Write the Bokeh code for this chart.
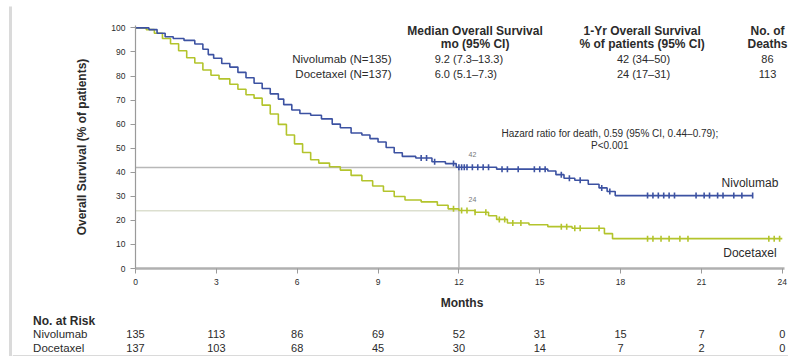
import math
from bokeh.plotting import figure
from bokeh.layouts import row, column
from bokeh.models import Range1d, Label, ColumnDataSource, FixedTicker
from bokeh.core.properties import value
from bokeh.embed import file_html
from bokeh.resources import INLINE

# ---------------- data ----------------
nivo_t = [0, 0.5, 0.8, 1.1, 1.4, 1.8, 2.2, 2.5, 2.7, 2.9, 3.2, 3.5, 3.8, 4.1, 4.4, 4.7, 5.0,
          5.3, 5.5, 5.8, 6.1, 6.5, 6.9, 7.3, 7.6, 8.0, 8.4, 8.7, 9.0, 9.3, 9.6, 9.9, 10.4,
          11.0, 11.5, 11.9, 13.4, 15.3, 15.6, 15.9, 16.3, 16.8, 17.2, 17.5, 17.8, 22.9]
nivo_s = [100, 99.3, 97.8, 96.3, 95.6, 94.8, 93.3, 91.1, 88.9, 87.4, 85.2, 83.7, 81.5, 79.3,
          77.0, 74.8, 72.6, 70.4, 68.1, 65.9, 64.4, 63.7, 62.2, 60.0, 58.5, 56.3, 55.5, 54.0,
          52.6, 50.3, 48.1, 46.6, 45.9, 44.4, 43.6, 42.1, 41.3, 40.5, 39.0, 37.5, 36.7, 35.0,
          33.5, 32.0, 30.3, 30.3]
nivo_cens_t = [10.6, 10.8, 11.1, 11.8, 12.0, 12.1, 12.2, 12.3, 12.5, 12.7, 12.9, 13.1, 13.6,
               13.8, 14.2, 14.8, 15.0, 15.2, 15.8, 16.1, 16.5, 17.3, 17.6, 19.0, 19.2, 19.4,
               19.6, 19.8, 20.0, 20.8, 21.1, 21.3, 21.6, 21.8, 22.2, 22.5, 22.9]
nivo_cens_s = [45.9, 45.9, 44.4, 43.6, 42.1, 42.1, 42.1, 42.1, 42.1, 42.1, 42.1, 42.1, 41.3,
               41.3, 41.3, 41.3, 41.3, 41.3, 39.0, 37.5, 36.7, 33.5, 32.0, 30.3, 30.3, 30.3,
               30.3, 30.3, 30.3, 30.3, 30.3, 30.3, 30.3, 30.3, 30.3, 30.3, 30.3]

doc_t = [0, 0.4, 0.7, 1.0, 1.3, 1.6, 1.9, 2.2, 2.5, 2.8, 3.1, 3.5, 3.8, 4.1, 4.4, 4.7, 5.0,
         5.3, 5.6, 5.9, 6.2, 6.5, 6.8, 7.2, 7.6, 8.0, 8.4, 8.8, 9.2, 9.6, 10.0, 10.6, 11.2,
         11.6, 12.0, 12.6, 13.1, 13.4, 13.8, 14.6, 15.3, 16.2, 17.4, 17.7, 24.0]
doc_s = [100, 99.3, 97.8, 95.6, 93.4, 90.5, 87.6, 85.4, 82.5, 80.3, 78.8, 76.6, 74.5, 72.2,
         70.8, 67.9, 64.2, 59.9, 55.5, 51.8, 48.2, 45.2, 43.8, 42.3, 40.9, 38.7, 36.5, 34.3,
         32.1, 29.9, 28.5, 27.7, 26.3, 24.8, 24.1, 23.4, 21.9, 20.4, 18.9, 18.2, 17.4, 16.7,
         14.5, 12.4, 12.4]
doc_cens_t = [11.8, 12.1, 12.3, 12.6, 13.0, 13.5, 13.7, 14.0, 14.3, 15.8, 16.0, 16.3, 16.5,
              17.2, 19.0, 19.2, 19.5, 19.8, 20.2, 20.5, 23.5, 23.7, 23.9]
doc_cens_s = [24.8, 24.1, 24.1, 23.4, 23.4, 20.4, 20.4, 18.9, 18.9, 17.4, 17.4, 16.7, 16.7,
              16.7, 12.4, 12.4, 12.4, 12.4, 12.4, 12.4, 12.4, 12.4, 12.4]

groups = ["Nivolumab", "Docetaxel"]
group_n = ["135", "137"]
median_os = ["9.2 (7.3\u201313.3)", "6.0 (5.1\u20137.3)"]
one_year_txt = ["42 (34\u201350)", "24 (17\u201331)"]
one_year_val = [42, 24]
deaths = ["86", "113"]
landmark_month = 12
hazard_line1 = "Hazard ratio for death, 0.59 (95% CI, 0.44\u20130.79);"
hazard_line2 = "P<0.001"

risk_months = [0, 3, 6, 9, 12, 15, 18, 21, 24]
risk_nivo = [135, 113, 86, 69, 52, 31, 15, 7, 0]
risk_doc = [137, 103, 68, 45, 30, 14, 7, 2, 0]

y_ticks = [0, 10, 20, 30, 40, 50, 60, 70, 80, 90, 100]

BLUE = "#3c52a2"
GREEN = "#b3c42c"
TXT = "#2b2b2b"
FONT = "Liberation Sans"

STRIP_W = 12
MAIN_W = 776
LEFT_PAD = 123                      # px from strip to the y axis
PX_PER_MONTH = 26.95
X_END = (MAIN_W - LEFT_PAD) / PX_PER_MONTH
X_START_TABLE = -LEFT_PAD / PX_PER_MONTH

p = figure(width=MAIN_W, height=312, output_backend="svg", toolbar_location=None,
           x_range=Range1d(0, X_END), y_range=Range1d(0, 101),
           min_border_left=LEFT_PAD, min_border_right=0, min_border_top=25, min_border_bottom=44)
p.frame_align = False
p.outline_line_color = None
p.grid.visible = False

# axes
p.xaxis.ticker = FixedTicker(ticks=risk_months)
p.yaxis.ticker = FixedTicker(ticks=y_ticks)
p.xaxis.bounds = (0, 24.1)
for ax in (p.xaxis[0], p.yaxis[0]):
    ax.major_label_text_font = FONT
    ax.major_label_text_font_size = "8.5px"
    ax.major_label_text_color = TXT
    ax.axis_label_text_font = FONT
    ax.axis_label_text_font_size = "12px"
    ax.axis_label_text_font_style = "bold"
    ax.axis_label_text_color = TXT
    ax.minor_tick_line_color = None
    ax.major_tick_in = 0
    ax.major_tick_out = 5
    ax.major_tick_line_color = "#9a9a9a"
p.xaxis.axis_label = "Months"
p.yaxis.axis_label = "Overall Survival (% of patients)"
p.xaxis.axis_line_color = "#b0b0b0"
p.xaxis.axis_line_width = 2.5
p.yaxis.axis_line_color = "#9a9a9a"
p.yaxis.axis_line_width = 1.2
p.xaxis.major_label_standoff = 5
p.yaxis.major_label_standoff = 5
p.xaxis.axis_label_standoff = 8
p.yaxis.axis_label_standoff = 19

# landmark reference lines
p.segment(x0=[0], y0=[one_year_val[0]], x1=[landmark_month], y1=[one_year_val[0]],
          line_color="#b8b8b8", line_width=1.5)
p.segment(x0=[0], y0=[one_year_val[1]], x1=[landmark_month], y1=[one_year_val[1]],
          line_color="#dcdfcf", line_width=1.5)
p.segment(x0=[landmark_month], y0=[0], x1=[landmark_month], y1=[one_year_val[0]],
          line_color="#b8b8b8", line_width=1.5)

# KM curves
p.step(doc_t, doc_s, mode="after", line_color=GREEN, line_width=1.6)
p.step(nivo_t, nivo_s, mode="after", line_color=BLUE, line_width=1.6)
p.scatter(doc_cens_t, doc_cens_s, marker="dash", angle=math.pi / 2, size=6,
          line_color=GREEN, line_width=1.6)
p.scatter(nivo_cens_t, nivo_cens_s, marker="dash", angle=math.pi / 2, size=6,
          line_color=BLUE, line_width=1.6)


def lab(fig, x, y, text, size="11px", style="normal", align="center", color=TXT):
    fig.add_layout(Label(x=x, y=y, text=text, text_font=FONT, text_font_size=size,
                         text_font_style=style, text_align=align, text_baseline="middle",
                         text_color=color))


# landmark small labels
lab(p, landmark_month + 0.5, one_year_val[0] + 5.5, str(one_year_val[0]), size="7px", color="#777")
lab(p, landmark_month + 0.5, one_year_val[1] + 4.5, str(one_year_val[1]), size="7px", color="#777")

# header table
lab(p, 12.6, 98.6, "Median Overall Survival", size="12px", style="bold")
lab(p, 12.6, 93.2, "mo (95% CI)", size="12px", style="bold")
lab(p, 18.8, 98.6, "1-Yr Overall Survival", size="12px", style="bold")
lab(p, 18.8, 93.2, "% of patients (95% CI)", size="12px", style="bold")
lab(p, 23.45, 98.6, "No. of", size="12px", style="bold")
lab(p, 23.45, 93.2, "Deaths", size="12px", style="bold")
row_y = [87.1, 80.9]
for i in range(2):
    lab(p, 9.5, row_y[i], f"{groups[i]} (N={group_n[i]})", size="11.5px", align="right")
    lab(p, 11.1, row_y[i], median_os[i], align="left")
    lab(p, 18.85, row_y[i], one_year_txt[i])
    lab(p, 23.45, row_y[i], deaths[i])

# hazard ratio
lab(p, 17.6, 56.2, hazard_line1, size="10px")
lab(p, 17.6, 51.0, hazard_line2, size="10px")

# curve labels
lab(p, 22.8, 35.7, groups[0], size="12px")
lab(p, 22.8, 6.6, groups[1], size="12px")

# ---------------- number at risk table (second figure, same x scale) ----------------
p2 = figure(width=MAIN_W, height=44, output_backend="svg", toolbar_location=None,
            x_range=Range1d(X_START_TABLE, X_END), y_range=Range1d(44, 0),
            x_axis_type=None, y_axis_type=None,
            min_border_left=0, min_border_right=0, min_border_top=0, min_border_bottom=0)
p2.frame_align = False
p2.outline_line_color = None
p2.grid.visible = False
row_label_x = -3.8
p2.text(x=[row_label_x], y=[8], text=["No. at Risk"], text_font=value(FONT),
        text_font_size="12px", text_font_style="bold", text_baseline="middle",
        text_color=TXT)
p2.text(x=[row_label_x, row_label_x], y=[21, 35], text=groups, text_font=value(FONT),
        text_font_size="11.5px", text_baseline="middle", text_color=TXT)
src = ColumnDataSource(dict(
    x=risk_months + risk_months,
    y=[21] * len(risk_months) + [35] * len(risk_months),
    t=[str(v) for v in risk_nivo] + [str(v) for v in risk_doc]))
p2.text(x="x", y="y", text="t", source=src, text_font=value(FONT), text_font_size="11px",
        text_align="center", text_baseline="middle", text_color=TXT)
# slide frame bottom edge
p2.quad(left=[X_START_TABLE], right=[X_END], bottom=[42.5], top=[44], fill_color="#dadada",
        line_color=None)

# ---------------- left slide edge ----------------
strip = figure(width=STRIP_W, height=356, output_backend="svg", toolbar_location=None,
               x_range=Range1d(0, STRIP_W), y_range=Range1d(356, 0),
               x_axis_type=None, y_axis_type=None,
               min_border_left=0, min_border_right=0, min_border_top=0, min_border_bottom=0)
strip.frame_align = False
strip.outline_line_color = None
strip.grid.visible = False
strip.quad(left=[8.5], right=[11.5], bottom=[356], top=[6], fill_color="#dadada", line_color=None)

layout = row(strip, column(p, p2))
open("out.html", "w").write(file_html(layout, INLINE))
